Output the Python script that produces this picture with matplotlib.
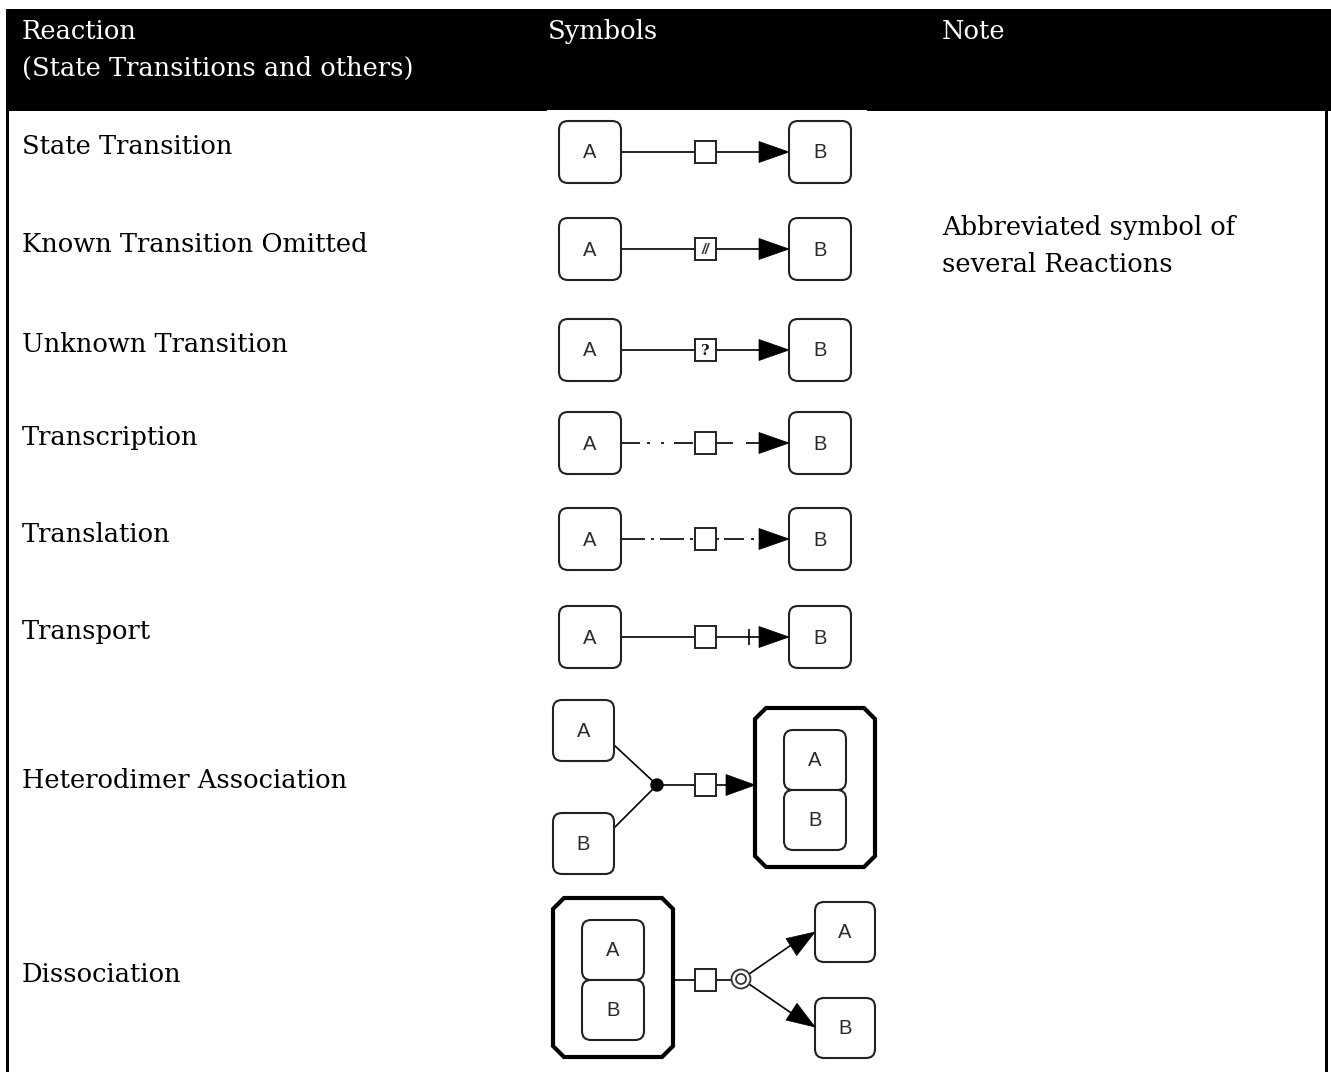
import matplotlib

matplotlib.use("Agg")

import matplotlib.pyplot as plt
from matplotlib.patches import FancyBboxPatch, Rectangle, Polygon, Circle


plt.rcParams["lines.scale_dashes"] = False


# Table content

header_labels = [
    "Reaction\n(State Transitions and others)",
    "Symbols",
    "Note"
]

reactions = [
    "State Transition",
    "Known Transition Omitted",
    "Unknown Transition",
    "Transcription",
    "Translation",
    "Transport",
    "Heterodimer Association",
    "Dissociation"
]

notes = [
    "",
    "Abbreviated symbol of\nseveral Reactions",
    "",
    "",
    "",
    "",
    "",
    ""
]

# process-node label and line pattern of the simple A -> B rows
process_marks = ["", "//", "?", "", "", ""]

line_kinds = ["solid", "solid", "solid", "transcription", "translation", "transport"]


# Layout (pixels, origin top-left)

W, H = 1331, 1072

row_centers = [152, 249, 350, 443, 539, 637, 785, 980]

COL_X = [22, 548, 942]

SERIF = "DejaVu Serif"
SANS = "Liberation Sans"
EDGE = "#222222"
TXT_SIZE = 18.5


fig = plt.figure(figsize=(W / 100, H / 100), dpi=100)
ax = fig.add_axes([0, 0, 1, 1])
ax.set_xlim(0, W)
ax.set_ylim(H, 0)
ax.axis("off")


def node(x0, y0, w, h, label):

    ax.add_patch(
        FancyBboxPatch(
            (x0, y0), w, h,
            boxstyle="round,pad=0,rounding_size=9",
            facecolor="white",
            edgecolor=EDGE,
            linewidth=1.5,
            zorder=3
        )
    )

    ax.text(
        x0 + w / 2, y0 + h / 2 + 1, label,
        family=SANS, fontsize=14.5, color="#2a2a2a",
        ha="center", va="center", zorder=4
    )


def complex_node(x0, y0, w, h):

    c = 11
    pts = [
        (x0 + c, y0), (x0 + w - c, y0), (x0 + w, y0 + c),
        (x0 + w, y0 + h - c), (x0 + w - c, y0 + h), (x0 + c, y0 + h),
        (x0, y0 + h - c), (x0, y0 + c)
    ]

    ax.add_patch(
        Polygon(pts, closed=True, facecolor="white",
                edgecolor="black", linewidth=3.0, zorder=2)
    )

    inner_x = x0 + (w - 62) / 2
    node(inner_x, y0 + 22, 62, 60, "A")
    node(inner_x, y0 + 82, 62, 60, "B")


def process(cx, cy, mark=""):

    ax.add_patch(
        Rectangle((cx - 10.5, cy - 11), 21, 22, facecolor="white",
                  edgecolor=EDGE, linewidth=1.4, zorder=4)
    )

    if mark == "//":
        ax.text(cx, cy + 1, mark, family=SANS, fontsize=10,
                style="italic", fontweight="bold", color="#333333",
                ha="center", va="center", zorder=5)
    elif mark:
        ax.text(cx, cy + 1, mark, family=SERIF, fontsize=10.5,
                fontweight="bold", color="#111111",
                ha="center", va="center", zorder=5)


def arrow_head(x_tip, y_tip, x_from, y_from, length=30, half=10.5):

    dx = x_tip - x_from
    dy = y_tip - y_from
    n = (dx ** 2 + dy ** 2) ** 0.5
    ux, uy = dx / n, dy / n
    bx, by = x_tip - ux * length, y_tip - uy * length
    pts = [
        (x_tip, y_tip),
        (bx - uy * half, by + ux * half),
        (bx + uy * half, by - ux * half)
    ]

    ax.add_patch(Polygon(pts, closed=True, facecolor="black",
                         edgecolor="black", linewidth=0.5, zorder=5))


def seg(x0, y0, x1, y1, ls="-"):

    ax.plot([x0, x1], [y0, y1], color="black", linewidth=1.2,
            linestyle=ls, solid_capstyle="butt", dash_capstyle="butt",
            zorder=1)


# dash patterns in points (1 px = 0.72 pt)

px = 0.72
transcription_left = (0, (19 * px, 7 * px, 3 * px, 11 * px, 3 * px, 10 * px))
transcription_right = (0, (17 * px, 13 * px))
translation_style = (0, (24 * px, 6 * px, 3 * px, 6 * px))


# Header band

ax.add_patch(Rectangle((6, 9), W - 6, 102, facecolor="black",
                       edgecolor="none", zorder=0))
ax.add_patch(Rectangle((547, 109.5), 320, 2, facecolor="white",
                       edgecolor="none", zorder=0))

# side borders
ax.add_patch(Rectangle((6, 111), 3, H - 111, facecolor="black",
                       edgecolor="none", zorder=0))
ax.add_patch(Rectangle((1325, 111), 3, H - 111, facecolor="black",
                       edgecolor="none", zorder=0))

for label, x in zip(header_labels, COL_X):

    ax.text(x, 19, label, family=SERIF, fontsize=TXT_SIZE, color="white",
            ha="left", va="top", linespacing=1.6)


# Row labels and notes

for name, note, yc in zip(reactions, notes, row_centers):

    ax.text(COL_X[0], yc - 5, name, family=SERIF, fontsize=TXT_SIZE,
            color="black", ha="left", va="center")

    if note:
        ax.text(COL_X[2], yc - 3, note, family=SERIF, fontsize=TXT_SIZE,
                color="black", ha="left", va="center", linespacing=1.6)


# Simple A -> B rows

for mark, kind, yc in zip(process_marks, line_kinds, row_centers):

    node(559, yc - 31, 62, 62, "A")
    node(789, yc - 31, 62, 62, "B")

    if kind == "transcription":
        seg(621, yc, 695, yc, transcription_left)
        seg(716, yc, 762, yc, transcription_right)
    elif kind == "translation":
        seg(621, yc, 695, yc, translation_style)
        seg(716, yc, 762, yc, (0, (3 * px, 5 * px, 20 * px, 7 * px)))
    else:
        seg(621, yc, 770, yc)

    if kind == "transport":
        seg(749, yc - 8, 749, yc + 8)

    process(705.5, yc, mark)
    arrow_head(789, yc, 700, yc)


# Heterodimer association

yc = row_centers[6]
node(553, 700, 61, 61, "A")
node(553, 813, 61, 61, "B")
seg(614, 745, 657, yc)
seg(614, 828, 657, yc)
seg(657, yc, 740, yc)
ax.add_patch(Circle((657, yc), 6, facecolor="black", edgecolor="black",
                    zorder=5))
process(705.5, yc)
arrow_head(755, yc, 700, yc, length=29)
complex_node(755, 708, 120, 159)


# Dissociation

yc = row_centers[7]
complex_node(553, 898, 120, 159)
seg(673, yc, 740, yc)
process(705.5, yc)
ax.add_patch(Circle((741, yc - 1), 9.5, facecolor="white", edgecolor="#333333",
                    linewidth=1.3, zorder=5))
ax.add_patch(Circle((741, yc - 1), 5, facecolor="white", edgecolor="#333333",
                    linewidth=1.3, zorder=6))
seg(749, yc - 6, 800, 939)
seg(749, yc + 4, 800, 1019)
arrow_head(815, 932, 749, yc - 6, length=28, half=10)
arrow_head(815, 1027, 749, yc + 4, length=28, half=10)
node(815, 902, 60, 60, "A")
node(815, 998, 60, 60, "B")


fig.savefig("out.png", dpi=100)
plt.close(fig)
